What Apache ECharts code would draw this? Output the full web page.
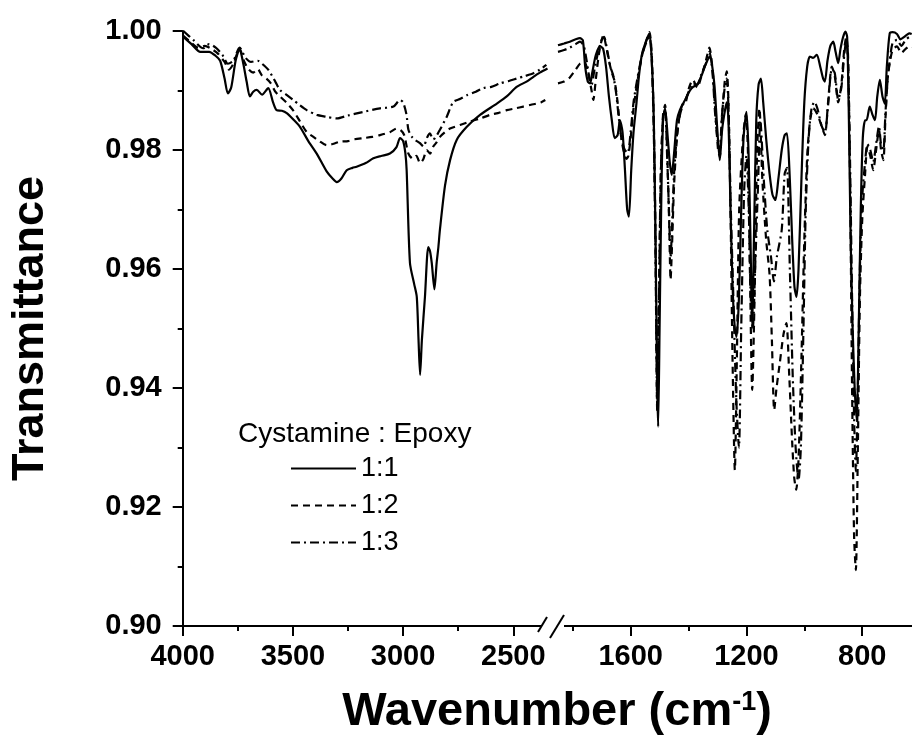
<!DOCTYPE html>
<html>
<head>
<meta charset="utf-8">
<script src="https://cdn.jsdelivr.net/npm/echarts@6/dist/echarts.min.js"></script>
<style>
html,body{margin:0;padding:0;background:#fff;}
#chart{width:912px;height:755px;}
</style>
</head>
<body>
<div id="chart"></div>
<script>
// ---------- Data: left panel (4000 - 2340 cm-1) ----------
const leftWn_11 = [3997,3960,3920,3880,3850,3830,3810,3795,3780,3760,3742,3725,3710,3695,3680,3664,3640,3612,3590,3574,3550,3528,3500,3468,3430,3392,3347,3320,3301,3280,3256,3230,3211,3170,3135,3100,3060,3030,3014,3000,2990,2984,2969,2950,2938,2930,2923,2915,2901,2886,2878,2870,2858,2848,2840,2833,2810,2787,2757,2711,2651,2575,2530,2485,2440,2409,2380,2345];
const leftT_11 = [0.9990,0.9978,0.9965,0.9965,0.9958,0.9950,0.9920,0.9895,0.9905,0.9950,0.9970,0.9945,0.9915,0.9890,0.9898,0.9901,0.9893,0.9904,0.9880,0.9867,0.9866,0.9862,0.9852,0.9839,0.9815,0.9794,0.9764,0.9752,0.9746,0.9752,0.9766,0.9770,0.9772,0.9778,0.9786,0.9790,0.9794,0.9805,0.9820,0.9815,0.9795,0.9766,0.9610,0.9575,0.9553,0.9480,0.9422,0.9480,0.9553,0.9637,0.9630,0.9610,0.9566,0.9610,0.9637,0.9666,0.9740,0.9783,0.9817,0.9839,0.9859,0.9878,0.9890,0.9906,0.9915,0.9923,0.9930,0.9937];

const leftWn_12 = [3997,3960,3930,3900,3870,3840,3810,3790,3770,3742,3720,3700,3680,3660,3640,3620,3600,3580,3559,3530,3498,3468,3437,3407,3380,3347,3320,3286,3250,3220,3181,3140,3105,3060,3029,3010,2995,2976,2955,2940,2923,2908,2893,2878,2863,2850,2833,2810,2787,2742,2696,2650,2606,2570,2530,2490,2455,2420,2394,2375,2355];
const leftT_12 = [0.9992,0.9980,0.9972,0.9975,0.9970,0.9962,0.9948,0.9935,0.9945,0.9970,0.9948,0.9935,0.9930,0.9936,0.9925,0.9920,0.9912,0.9898,0.9890,0.9880,0.9866,0.9848,0.9830,0.9822,0.9815,0.9808,0.9810,0.9814,0.9815,0.9818,0.9820,0.9822,0.9825,0.9830,0.9836,0.9833,0.9825,0.9794,0.9785,0.9790,0.9778,0.9785,0.9800,0.9794,0.9806,0.9812,0.9822,0.9830,0.9836,0.9842,0.9848,0.9853,0.9859,0.9862,0.9867,0.9870,0.9873,0.9876,0.9878,0.9880,0.9884];

const leftWn_13 = [3997,3952,3907,3880,3850,3820,3795,3770,3742,3715,3690,3660,3640,3612,3580,3559,3530,3498,3468,3437,3392,3350,3301,3250,3181,3105,3044,3014,3000,2985,2976,2960,2946,2925,2908,2890,2878,2865,2855,2833,2802,2772,2740,2711,2670,2636,2600,2560,2520,2485,2450,2409,2380,2350];
const leftT_13 = [1.0000,0.9985,0.9971,0.9978,0.9972,0.9960,0.9945,0.9950,0.9972,0.9955,0.9948,0.9950,0.9945,0.9935,0.9915,0.9901,0.9893,0.9884,0.9875,0.9867,0.9859,0.9856,0.9853,0.9858,0.9864,0.9870,0.9873,0.9884,0.9880,0.9860,0.9834,0.9822,0.9817,0.9812,0.9806,0.9822,0.9828,0.9818,0.9820,0.9834,0.9856,0.9881,0.9886,0.9892,0.9898,0.9904,0.9906,0.9912,0.9916,0.9920,0.9924,0.9929,0.9935,0.9943];

// ---------- Data: right panel (1853 - 628 cm-1) ----------
const rightWn_11 = [1851,1830,1810,1790,1775,1765,1757,1748,1740,1733,1720,1705,1695,1685,1675,1665,1655,1645,1637,1628,1620,1612,1606,1598,1590,1580,1570,1560,1545,1535,1527,1520,1514,1508,1505,1500,1494,1488,1481,1472,1465,1458,1450,1440,1430,1412,1395,1384,1370,1355,1340,1326,1318,1310,1300,1292,1284,1274,1268,1262,1255,1247,1240,1234,1226,1218,1210,1200,1193,1186,1180,1174,1166,1158,1150,1142,1132,1120,1110,1100,1090,1078,1068,1060,1050,1042,1034,1027,1020,1010,1000,990,981,970,957,945,935,929,920,910,900,892,883,875,866,858,852,846,840,833,826,819,812,805,798,790,785,774,765,756,748,739,730,722,715,705,695,680,668,655,645,636,629];
const rightT_11 = [0.9976,0.9979,0.9982,0.9986,0.9988,0.9984,0.9940,0.9915,0.9912,0.9929,0.9960,0.9974,0.9970,0.9940,0.9890,0.9850,0.9820,0.9825,0.9850,0.9830,0.9770,0.9700,0.9688,0.9766,0.9830,0.9878,0.9930,0.9963,0.9985,0.9996,0.9950,0.9850,0.9650,0.9400,0.9335,0.9500,0.9720,0.9850,0.9870,0.9822,0.9780,0.9758,0.9794,0.9850,0.9867,0.9884,0.9900,0.9906,0.9910,0.9925,0.9945,0.9957,0.9940,0.9906,0.9830,0.9783,0.9834,0.9867,0.9880,0.9850,0.9700,0.9560,0.9500,0.9486,0.9550,0.9700,0.9820,0.9864,0.9800,0.9650,0.9500,0.9650,0.9850,0.9910,0.9920,0.9880,0.9820,0.9760,0.9725,0.9716,0.9750,0.9800,0.9825,0.9828,0.9750,0.9650,0.9570,0.9553,0.9600,0.9750,0.9880,0.9940,0.9957,0.9955,0.9960,0.9940,0.9920,0.9915,0.9950,0.9975,0.9982,0.9965,0.9946,0.9970,0.9990,0.9999,0.9990,0.9850,0.9650,0.9500,0.9400,0.9346,0.9500,0.9700,0.9820,0.9850,0.9850,0.9873,0.9860,0.9850,0.9890,0.9918,0.9890,0.9878,0.9940,0.9996,0.9998,0.9995,0.9986,0.9990,0.9994,0.9996,0.9995];

const rightWn_12 = [1851,1830,1810,1790,1775,1760,1745,1735,1729,1720,1710,1700,1694,1685,1675,1665,1655,1645,1635,1625,1615,1608,1600,1590,1575,1560,1545,1535,1527,1520,1514,1508,1503,1496,1488,1481,1474,1467,1462,1457,1450,1440,1430,1420,1410,1398,1385,1370,1355,1340,1328,1318,1308,1298,1292,1285,1275,1268,1262,1255,1248,1240,1233,1225,1212,1202,1195,1188,1180,1172,1163,1155,1145,1132,1120,1112,1104,1096,1085,1072,1062,1052,1043,1035,1028,1020,1010,1000,990,980,969,955,940,929,918,905,895,883,872,862,855,849,842,835,828,822,815,808,800,790,782,772,762,752,742,735,727,720,712,705,695,680,665,650,635,629];
const rightT_12 = [0.9912,0.9915,0.9922,0.9935,0.9945,0.9948,0.9925,0.9900,0.9884,0.9920,0.9960,0.9985,0.9993,0.9975,0.9950,0.9930,0.9915,0.9880,0.9830,0.9800,0.9785,0.9790,0.9820,0.9870,0.9920,0.9960,0.9985,0.9998,0.9960,0.9850,0.9650,0.9360,0.9500,0.9750,0.9860,0.9876,0.9800,0.9680,0.9582,0.9640,0.9740,0.9820,0.9860,0.9878,0.9880,0.9905,0.9918,0.9905,0.9925,0.9950,0.9972,0.9940,0.9870,0.9800,0.9789,0.9850,0.9915,0.9932,0.9880,0.9700,0.9450,0.9262,0.9450,0.9700,0.9820,0.9860,0.9800,0.9600,0.9397,0.9550,0.9800,0.9870,0.9750,0.9650,0.9590,0.9480,0.9363,0.9400,0.9441,0.9490,0.9509,0.9420,0.9320,0.9250,0.9229,0.9280,0.9450,0.9650,0.9790,0.9850,0.9870,0.9860,0.9840,0.9825,0.9880,0.9940,0.9925,0.9880,0.9910,0.9970,0.9990,0.9960,0.9750,0.9400,0.9150,0.9094,0.9300,0.9550,0.9682,0.9760,0.9806,0.9790,0.9766,0.9800,0.9834,0.9800,0.9783,0.9850,0.9920,0.9946,0.9968,0.9974,0.9963,0.9970,0.9975,0.9972];

const rightWn_13 = [1851,1830,1810,1790,1775,1762,1752,1742,1735,1725,1712,1700,1692,1680,1670,1660,1650,1640,1630,1620,1610,1600,1590,1575,1560,1545,1535,1527,1520,1514,1508,1503,1496,1488,1481,1474,1467,1462,1457,1450,1440,1430,1420,1410,1398,1385,1370,1355,1340,1328,1318,1308,1298,1292,1285,1275,1268,1262,1255,1245,1235,1226,1218,1208,1200,1192,1185,1178,1170,1160,1152,1140,1128,1115,1105,1095,1078,1068,1060,1050,1040,1030,1020,1012,1003,995,985,975,965,955,940,929,918,905,895,883,872,862,855,849,842,835,828,822,815,808,800,790,782,772,762,752,742,735,727,720,712,705,695,680,665,650,635,629];
const rightT_13 = [0.9965,0.9968,0.9972,0.9978,0.9982,0.9975,0.9950,0.9920,0.9910,0.9935,0.9965,0.9985,0.9990,0.9965,0.9940,0.9925,0.9895,0.9850,0.9815,0.9800,0.9795,0.9830,0.9880,0.9925,0.9960,0.9982,0.9990,0.9950,0.9830,0.9620,0.9370,0.9520,0.9760,0.9855,0.9868,0.9790,0.9690,0.9620,0.9670,0.9760,0.9825,0.9858,0.9875,0.9885,0.9900,0.9912,0.9910,0.9928,0.9945,0.9965,0.9935,0.9860,0.9810,0.9800,0.9855,0.9905,0.9920,0.9870,0.9720,0.9550,0.9380,0.9300,0.9500,0.9730,0.9790,0.9700,0.9550,0.9500,0.9600,0.9740,0.9850,0.9750,0.9666,0.9620,0.9579,0.9620,0.9666,0.9760,0.9770,0.9600,0.9420,0.9300,0.9245,0.9300,0.9500,0.9700,0.9820,0.9870,0.9881,0.9870,0.9840,0.9830,0.9875,0.9935,0.9930,0.9885,0.9905,0.9960,0.9985,0.9950,0.9780,0.9550,0.9350,0.9260,0.9400,0.9600,0.9720,0.9780,0.9810,0.9800,0.9780,0.9810,0.9840,0.9810,0.9800,0.9860,0.9920,0.9950,0.9980,0.9985,0.9975,0.9985,0.9990,0.9988];

// ---------- Labels / ticks ----------
const seriesNames = ['1:1', '1:2', '1:3'];
const leftMajorTicks = [4000, 3500, 3000, 2500];
const leftMinorTicks = [3750, 3250, 2750];
const rightMajorTicks = [1600, 1200, 800];
const rightMinorTicks = [1800, 1400, 1000];
const legendTitle = 'Cystamine : Epoxy';
const yTitle = 'Transmittance';

function pairs(wn, t) { return wn.map((w, i) => [w, t[i]]); }

const FONT = '"Liberation Sans", Arial, Helvetica, sans-serif';
const lineTypes = ['solid', [7, 5], [9, 4, 2, 4]];

const chart = echarts.init(document.getElementById('chart'), null, { renderer: 'canvas' });

const axisLineStyle = { color: '#000', width: 2 };
const tickLabelStyle = { color: '#000', fontSize: 29, fontWeight: 'bold', fontFamily: FONT };

function majorX(grid, min, max, ticks) {
  return {
    type: 'value', gridIndex: grid, min: min, max: max, inverse: true, position: 'bottom',
    axisLine: { show: true, lineStyle: axisLineStyle },
    axisTick: { show: true, inside: false, length: 10, lineStyle: axisLineStyle, customValues: ticks },
    axisLabel: { show: true, margin: 16, customValues: ticks, formatter: v => String(v), ...tickLabelStyle },
    splitLine: { show: false }
  };
}
function minorX(grid, min, max, ticks) {
  return {
    type: 'value', gridIndex: grid, min: min, max: max, inverse: true, position: 'bottom', offset: 0,
    axisLine: { show: false },
    axisTick: { show: true, inside: false, length: 5, lineStyle: axisLineStyle, customValues: ticks },
    axisLabel: { show: false },
    splitLine: { show: false }
  };
}

const series = [];
const leftSets = [[leftWn_11, leftT_11], [leftWn_12, leftT_12], [leftWn_13, leftT_13]];
const rightSets = [[rightWn_11, rightT_11], [rightWn_12, rightT_12], [rightWn_13, rightT_13]];
for (let i = 0; i < 3; i++) {
  series.push({
    name: seriesNames[i], type: 'line', xAxisIndex: 0, yAxisIndex: 0,
    data: pairs(leftSets[i][0], leftSets[i][1]), symbol: 'none', smooth: 0.25,
    lineStyle: { color: '#000', width: 2.2, type: lineTypes[i] }, itemStyle: { color: '#000' }
  });
  series.push({
    name: seriesNames[i], type: 'line', xAxisIndex: 2, yAxisIndex: 1,
    data: pairs(rightSets[i][0], rightSets[i][1]), symbol: 'none', smooth: 0.25,
    lineStyle: { color: '#000', width: 2.2, type: lineTypes[i] }, itemStyle: { color: '#000' }
  });
}

const option = {
  animation: false,
  backgroundColor: '#fff',
  title: [
    { text: legendTitle, left: 233, top: 415, textStyle: { fontSize: 28, fontWeight: 'normal', color: '#000', fontFamily: FONT } },
    { text: '{a|Wavenumber (cm}{b|-1}{a|)}', left: 552, top: 684, textAlign: 'center',
      textStyle: { rich: {
        a: { fontSize: 47, fontWeight: 'bold', color: '#000', fontFamily: FONT },
        b: { fontSize: 27, fontWeight: 'bold', color: '#000', fontFamily: FONT, verticalAlign: 'top', padding: [0, 0, 19, 0] }
      } } }
  ],
  legend: {
    data: seriesNames, orient: 'vertical', left: 285, top: 450,
    itemWidth: 65, itemHeight: 20, itemGap: 10,
    itemStyle: { opacity: 0 },
    textStyle: { fontSize: 27, color: '#000', fontFamily: FONT },
    inactiveColor: '#000', selectedMode: false
  },
  grid: [
    { left: 182.7, top: 31, width: 365.9, height: 595, containLabel: false },
    { left: 557.4, top: 31, width: 354.6, height: 595, containLabel: false }
  ],
  xAxis: [
    majorX(0, 2340, 4000, leftMajorTicks),
    minorX(0, 2340, 4000, leftMinorTicks),
    majorX(1, 628, 1853, rightMajorTicks),
    minorX(1, 628, 1853, rightMinorTicks)
  ],
  yAxis: [
    {
      type: 'value', gridIndex: 0, min: 0.9, max: 1.0, interval: 0.02,
      name: yTitle, nameLocation: 'middle', nameGap: 130, nameRotate: 90,
      nameTextStyle: { fontSize: 45, fontWeight: 'bold', color: '#000', fontFamily: FONT },
      axisLine: { show: true, lineStyle: axisLineStyle },
      axisTick: { show: true, inside: false, length: 10, lineStyle: axisLineStyle },
      minorTick: { show: true, splitNumber: 2, length: 5, lineStyle: axisLineStyle },
      axisLabel: { margin: 21, formatter: v => v.toFixed(2), ...tickLabelStyle },
      splitLine: { show: false }, minorSplitLine: { show: false }
    },
    { type: 'value', gridIndex: 1, min: 0.9, max: 1.0, show: false, splitLine: { show: false } }
  ],
  graphic: [
    { type: 'rect', z: 100, shape: { x: 541.5, y: 619, width: 22.5, height: 14 }, style: { fill: '#fff' } },
    { type: 'line', z: 101, shape: { x1: 538, y1: 632, x2: 547, y2: 617 }, style: { stroke: '#000', lineWidth: 2 } },
    { type: 'line', z: 101, shape: { x1: 550, y1: 638, x2: 564, y2: 615 }, style: { stroke: '#000', lineWidth: 2 } }
  ],
  series: series
};
chart.setOption(option);
</script>
</body>
</html>
